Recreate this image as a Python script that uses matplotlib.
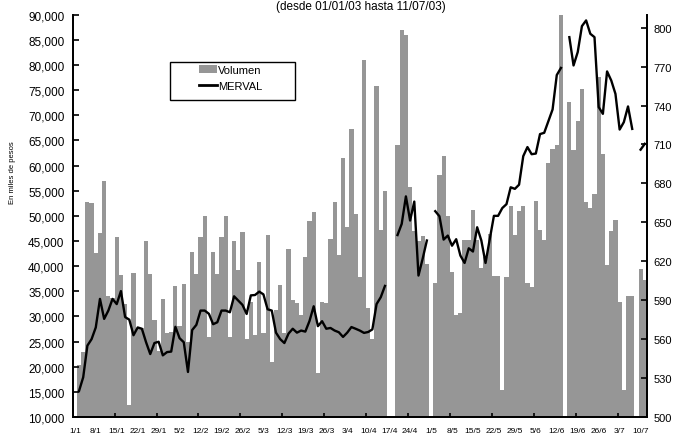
import numpy as np
import matplotlib
matplotlib.use("Agg")
import matplotlib.pyplot as plt
from matplotlib.patches import Rectangle, Patch
from matplotlib.lines import Line2D
from matplotlib.ticker import FuncFormatter, FixedLocator

plt.rcParams['font.family'] = ['Liberation Sans', 'DejaVu Sans']

# trading days 01/01/03 - 11/07/03 (weekdays, 02/04 not listed)
fechas = ["1/1", "8/1", "15/1", "22/1", "29/1", "5/2", "12/2", "19/2", "26/2",
          "5/3", "12/3", "19/3", "26/3", "3/4", "10/4", "17/4", "24/4", "1/5",
          "8/5", "15/5", "22/5", "29/5", "5/6", "12/6", "19/6", "26/6", "3/7", "10/7"]

# daily volume, thousands of pesos (0 = market closed)
volumen = [
    0, 20.4, 23.0, 52.8, 52.6, 42.6, 46.6, 57.0, 34.1, 33.7,
    45.7, 38.3, 32.5, 12.3, 38.6, 27.5, 27.7, 44.9, 38.4, 29.2,
    23.2, 33.4, 26.8, 27.0, 36.0, 28.0, 36.5, 25.0, 42.9, 38.5,
    45.7, 49.9, 26.0, 42.9, 38.5, 45.7, 49.9, 26.0, 44.9, 39.3,
    46.7, 25.5, 32.8, 26.3, 40.9, 26.8, 46.1, 21.0, 31.3, 36.2,
    26.7, 43.5, 33.3, 32.7, 30.3, 41.9, 49.0, 50.7, 18.7, 32.9,
    32.7, 45.3, 52.7, 42.2, 61.5, 47.7, 67.3, 50.4, 37.8, 80.9,
    31.7, 25.5, 75.9, 47.1, 55.0, 0, 0, 64.1, 87.0, 86.0,
    55.7, 46.9, 45.0, 45.9, 40.4, 0, 36.6, 58.2, 62.0, 49.9,
    38.9, 30.3, 30.6, 45.1, 45.1, 51.2, 45.1, 39.6, 41.8, 46.4,
    38.1, 38.1, 15.4, 37.8, 52.0, 46.1, 51.0, 52.0, 36.6, 35.8,
    52.9, 47.1, 45.1, 60.5, 63.3, 64.0, 91.0, 0, 72.7, 63.0,
    68.8, 75.2, 52.7, 51.5, 54.4, 77.6, 62.2, 40.2, 46.9, 49.2,
    32.9, 15.4, 34.0, 34.1, 0, 39.4, 37.3,
]

# MERVAL index close (nan = no quote)
nan = np.nan
merval = [
    nan, 520.0, 530.6, 555.0, 560.0, 569.0, 591.0, 575.6, 582.0, 591.0,
    587.0, 597.0, 577.0, 575.0, 563.0, 569.0, 568.0, 557.6, 548.5, 557.0,
    558.0, 547.5, 550.0, 550.4, 569.5, 560.7, 557.6, 534.7, 567.0, 571.0,
    582.0, 582.0, 579.5, 571.5, 573.0, 582.0, 582.0, 580.7, 593.0, 589.7,
    586.4, 579.4, 593.7, 594.0, 596.6, 594.5, 583.0, 582.0, 565.0, 560.0,
    557.0, 564.3, 568.0, 565.0, 566.6, 565.8, 574.0, 585.3, 570.0, 573.8,
    568.0, 568.6, 566.6, 565.3, 561.7, 565.0, 569.3, 568.0, 566.6, 564.8,
    565.5, 567.5, 587.0, 592.3, 601.0, nan, nan, 640.2, 648.8, 670.0,
    651.4, 666.0, 609.0, 622.0, 636.0, nan, 658.6, 654.7, 636.7, 639.8,
    632.0, 637.0, 624.4, 618.7, 630.0, 627.5, 646.2, 636.0, 618.7, 637.0,
    655.0, 655.0, 661.0, 664.0, 677.0, 675.8, 679.0, 701.0, 708.0, 702.5,
    703.0, 718.0, 719.0, 728.0, 737.0, 763.5, 769.0, nan, 792.7, 770.9,
    781.2, 801.2, 805.6, 795.3, 792.7, 738.8, 733.6, 766.3, 759.3, 749.0,
    721.5, 727.2, 739.3, 722.0, nan, 706.0, 710.5,
]

vol = np.array(volumen) * 1000
x = np.arange(len(vol))

fig = plt.figure(figsize=(6.79, 4.35), dpi=100)
ax = fig.add_axes([0.1071, 0.0391, 0.8456, 0.9248])
ax2 = ax.twinx()

ax.bar(x, vol, width=1.0, color='#969696', linewidth=0)
ax2.plot(x, merval, color='black', lw=1.7, solid_joinstyle='round')

ax.set_xlim(-0.5, len(vol) - 0.5)
ax.set_ylim(10000, 90000)
ax.set_yticks(np.arange(10000, 90001, 5000))
ax.yaxis.set_major_formatter(FuncFormatter(lambda v, p: f"{int(v):,}"))
ax2.set_ylim(500, 810)
ax2.set_yticks(np.arange(500, 801, 30))

# date labels every 5 sessions, tick marks every 10
ax.set_xticks(np.arange(0, len(vol), 5))
ax.set_xticklabels(fechas, fontsize=6, family=['Liberation Sans Narrow', 'Liberation Sans'])
ax.tick_params(axis='x', which='major', length=0, pad=7)
ax.xaxis.set_minor_locator(FixedLocator(np.arange(9.5, len(vol), 10)))
ax.tick_params(axis='x', which='minor', direction='in', length=3, width=1.2)

ax.tick_params(axis='y', direction='in', length=4, width=1.2, labelsize=8.5, pad=6)
ax2.tick_params(axis='y', direction='in', length=4, width=1.2, labelsize=8, pad=5)

for a in (ax, ax2):
    a.spines['top'].set_visible(False)
    for s in ('left', 'right', 'bottom'):
        a.spines[s].set_linewidth(1.3)

fig.text(13 / 679, 1 - 173 / 435, 'En miles de pesos', rotation=90,
         fontsize=5.5, ha='center', va='center')
fig.text(361 / 679, 1 - 1 / 435, '(desde 01/01/03 hasta 11/07/03)',
         ha='center', va='top', fontsize=8.5)

# legend box
fig.patches.append(Rectangle((170 / 679, 1 - 101 / 435), 125 / 679, 38 / 435,
                             transform=fig.transFigure, facecolor='white',
                             edgecolor='black', linewidth=1.0, zorder=3))
handles = [Patch(facecolor='#969696', edgecolor='none'),
           Line2D([], [], color='black', lw=2.0)]
fig.legend(handles, ['Volumen', 'MERVAL'], loc='upper left',
           bbox_to_anchor=(199 / 679, 1 - 66 / 435), frameon=False,
           fontsize=8, handlelength=1.6, handletextpad=0.15,
           labelspacing=0.55, borderpad=0, borderaxespad=0).set_zorder(4)

fig.savefig('out.png', dpi=100)
